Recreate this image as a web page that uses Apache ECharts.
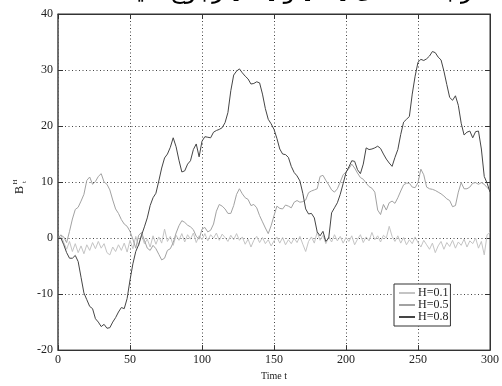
<!DOCTYPE html>
<html>
<head>
<meta charset="utf-8">
<script src="https://cdn.jsdelivr.net/npm/echarts@6/dist/echarts.min.js"></script>
<style>
  html, body { margin: 0; padding: 0; background: #fff; }
  #chart { width: 502px; height: 386px; }
</style>
</head>
<body>
<div id="chart"></div>
<script>
// time samples (t), every 2 steps
const timeT = [
  0, 2, 4, 6, 8, 10, 12, 14, 16, 18, 20, 22, 24, 26, 28, 30, 32, 34, 36, 38,
  40, 42, 44, 46, 48, 50, 52, 54, 56, 58, 60, 62, 64, 66, 68, 70, 72, 74, 76, 78,
  80, 82, 84, 86, 88, 90, 92, 94, 96, 98, 100, 102, 104, 106, 108, 110, 112, 114, 116, 118,
  120, 122, 124, 126, 128, 130, 132, 134, 136, 138, 140, 142, 144, 146, 148, 150, 152, 154, 156, 158,
  160, 162, 164, 166, 168, 170, 172, 174, 176, 178, 180, 182, 184, 186, 188, 190, 192, 194, 196, 198,
  200, 202, 204, 206, 208, 210, 212, 214, 216, 218, 220, 222, 224, 226, 228, 230, 232, 234, 236, 238,
  240, 242, 244, 246, 248, 250, 252, 254, 256, 258, 260, 262, 264, 266, 268, 270, 272, 274, 276, 278,
  280, 282, 284, 286, 288, 290, 292, 294, 296, 298, 300
];

// H = 0.1
const h01 = [
  0, 0.6, -0.8, -2.0, -0.6, -2.4, -1.0, -2.6, -1.4, -2.8, -1.2, -2.2, -0.8, -1.9, -0.6, -1.8, -1.0, -2.6, -3.0, -1.6,
  -2.4, -1.2, -2.2, -0.9, -2.5, -0.4, -1.9, 0.3, -1.4, 0.6, -1.0, -0.2, -1.6, 0.4, -1.1, 0.2, -0.9, 1.6, -0.6, 0.3,
  -1.3, 0.5, -0.4, 0.8, -0.7, 0.6, -0.2, 0.9, -0.8, 0.4, -0.3, 0.8, -0.5, 0.6, 0.0, 0.9, -0.4, 0.7, 0.1, -0.6,
  0.5, -0.3, 0.8, -0.4, 0.2, -1.1, -0.2, -1.6, -0.4, 0.3, -0.8, 0.1, -1.0, -0.3, -1.4, -0.5, 0.2, -0.9, 0.1, -1.2,
  -0.3, -1.0, 0.0, -0.8, 0.3, -1.1, -2.4, -0.6, 0.2, -0.9, 1.1, -0.4, 0.5, -1.0, 0.2, -0.7, 0.6, -0.5, 0.3, -0.9,
  0.1, -0.6, 0.4, -1.2, -0.2, 0.6, -0.8, 0.2, -0.5, 1.0, -0.3, 0.4, -0.7, 0.5, 0.0, 2.1, 0.3, -0.6, 0.4, -0.9,
  0.1, -1.2, -0.3, -1.0, 0.2, -0.8, -1.6, -0.4, -1.2, -2.0, -0.9, -2.6, -1.4, -0.6, -2.0, -0.8, -1.5, -0.4, -1.8, -0.7,
  -1.3, -0.2, -1.6, -0.5, -1.0, 0.0, -1.8, -0.6, -3.0, 0.6, 1.0
];

// H = 0.5
const h05 = [
  0, 0.5, 0.2, -0.8, 1.2, 3.4, 5.1, 5.5, 6.6, 7.8, 10.3, 10.9, 9.6, 10.1, 11.0, 11.5, 10.0, 9.6, 8.6, 6.8,
  5.2, 4.4, 3.3, 2.5, 2.1, 1.2, -0.2, -1.8, 0.5, 1.0, -0.4, -1.8, -2.2, -1.3, -1.9, -2.9, -3.9, -3.6, -2.2, -1.9,
  -0.8, 0.9, 2.2, 3.1, 2.8, 2.3, 2.0, 1.5, 0.3, -0.2, 1.6, 1.9, 1.1, 1.4, 2.5, 4.8, 6.0, 5.7, 5.2, 4.4,
  4.4, 5.8, 7.8, 8.8, 7.9, 7.2, 6.9, 5.8, 6.0, 5.4, 4.0, 2.9, 1.8, 0.8, 2.2, 4.0, 5.7, 5.3, 5.2, 5.9,
  5.7, 5.4, 6.4, 6.7, 6.4, 6.5, 6.8, 8.1, 8.4, 8.6, 8.8, 11.0, 11.2, 10.3, 9.5, 8.6, 8.2, 8.8, 10.0, 11.3,
  11.8, 12.4, 13.2, 12.5, 11.6, 10.8, 10.5, 9.8, 9.2, 8.9, 8.2, 5.0, 4.2, 6.0, 5.0, 6.3, 6.6, 6.2, 7.2, 8.4,
  9.5, 9.8, 9.8, 9.1, 9.0, 9.9, 12.3, 11.3, 9.1, 8.8, 8.7, 8.5, 8.2, 7.9, 7.5, 7.0, 6.7, 5.6, 5.8, 8.2,
  9.9, 8.8, 8.8, 9.1, 9.8, 9.9, 9.6, 9.9, 9.6, 9.0, 8.6
];

// H = 0.8
const h08 = [
  0, 0, -1.2, -2.6, -3.6, -3.6, -3.1, -4.2, -7.0, -9.8, -11.0, -12.2, -12.6, -14.4, -15.0, -15.8, -15.4, -16.1, -16.0, -15.0,
  -14.2, -13.2, -12.4, -12.6, -10.8, -7.5, -4.6, -2.4, -1.2, 0.5, 2.0, 3.6, 5.8, 7.2, 8.0, 10.2, 12.5, 14.3, 15.0, 16.2,
  17.9, 16.3, 13.9, 11.8, 12.0, 13.2, 13.8, 15.8, 16.8, 14.5, 17.3, 18.1, 18.0, 17.9, 18.9, 19.2, 19.4, 19.7, 20.6, 22.4,
  26.3, 29.1, 29.8, 30.2, 29.5, 28.9, 28.4, 27.5, 27.6, 27.9, 27.7, 25.7, 23.1, 21.2, 20.4, 19.4, 17.8, 15.9, 15.0, 14.9,
  14.4, 12.8, 11.7, 11.1, 10.2, 8.0, 5.2, 4.3, 4.4, 3.6, 1.1, 0.4, 1.2, -0.6, 0, 4.5, 5.4, 6.3, 7.8, 9.7,
  11.7, 12.7, 13.8, 13.7, 12.2, 11.5, 13.2, 16.1, 15.8, 15.9, 16.1, 16.4, 16.0, 15.0, 14.1, 13.4, 12.8, 14.4, 15.8, 18.5,
  20.7, 21.2, 21.7, 25.7, 28.9, 31.4, 31.9, 31.7, 32.0, 32.5, 33.3, 33.1, 32.3, 31.8, 29.8, 27.4, 25.1, 24.6, 25.4, 23.7,
  20.5, 18.4, 18.9, 19.1, 17.9, 19.0, 19.1, 15.9, 11.0, 9.8, 8.2
];

const seriesNames = ['H=0.1', 'H=0.5', 'H=0.8'];
const seriesValues = [h01, h05, h08];
const seriesColors = ['#c4c4c4', '#a2a2a2', '#454545'];

const xTicks = { min: 0, max: 300, interval: 50 };
const yTicks = { min: -20, max: 40, interval: 10 };

const serif = 'Liberation Serif';

const chart = echarts.init(document.getElementById('chart'), null, { renderer: 'canvas' });

const gridLine = { show: true, lineStyle: { color: '#444', width: 1, type: [1, 2.5] } };
const inTick = { show: true, inside: true, length: 5, lineStyle: { color: '#333' } };

const option = {
  animation: false,
  backgroundColor: '#fff',
  grid: {
    left: 58, right: 4, top: 14, bottom: 24,
    show: true, borderColor: '#333', borderWidth: 1
  },
  legend: {
    data: seriesNames,
    orient: 'vertical',
    left: 394, top: 284,
    itemWidth: 16, itemHeight: 2, itemGap: 0,
    padding: [3, 2, 3, 4],
    backgroundColor: '#fff',
    borderColor: '#333', borderWidth: 1,
    textStyle: { fontFamily: serif, fontSize: 12, color: '#222', lineHeight: 11.5, padding: [0, 0, 0, -2] }
  },
  xAxis: [{
    type: 'value',
    ...xTicks,
    name: 'Time t',
    nameLocation: 'middle',
    nameGap: 15,
    nameTextStyle: { fontFamily: serif, fontSize: 10, color: '#222' },
    axisLine: { show: true, onZero: false, lineStyle: { color: '#333', width: 1 } },
    axisTick: inTick,
    axisLabel: { fontFamily: serif, fontSize: 12, color: '#222', margin: 4 },
    splitLine: gridLine
  }, {
    type: 'value',
    ...xTicks,
    position: 'top',
    axisLine: { show: true, onZero: false, lineStyle: { color: '#333' } },
    axisTick: inTick,
    axisLabel: { show: false },
    splitLine: { show: false }
  }],
  yAxis: [{
    type: 'value',
    ...yTicks,
    axisLine: { show: true, onZero: false, lineStyle: { color: '#666', width: 1.5 } },
    axisTick: inTick,
    axisLabel: { fontFamily: serif, fontSize: 12, color: '#222', margin: 5 },
    splitLine: gridLine
  }, {
    type: 'value',
    ...yTicks,
    position: 'right',
    axisLine: { show: true, onZero: false, lineStyle: { color: '#333' } },
    axisTick: inTick,
    axisLabel: { show: false },
    splitLine: { show: false }
  }],
  series: seriesNames.map((name, i) => ({
    name,
    type: 'line',
    data: timeT.map((t, k) => [t, seriesValues[i][k]]),
    showSymbol: false,
    symbol: 'none',
    color: seriesColors[i],
    lineStyle: { color: seriesColors[i], width: 1 },
    z: 2 + i
  })),
  graphic: [
    {
      type: 'text', left: 117, top: -20,
      style: {
        text: '{b|.}{b|رجوع کنید}{b| [}{p|۲۳}{b|] }{b|و}{b| [}{p|۲۱}{b|] }{b|برای جزئیات بیشتر به مقاله‌ی}',
        rich: {
          b: { fontFamily: 'DejaVu Sans', fontSize: 24, fill: '#000' },
          p: { fontFamily: 'DejaVu Sans', fontSize: 24, fill: '#e6007e' }
        }
      }
    },
    {
      type: 'text', x: 20, y: 190, rotation: Math.PI / 2,
      style: { text: 'B', fontFamily: serif, fontSize: 12, fill: '#222', align: 'center', verticalAlign: 'middle' }
    },
    {
      type: 'text', x: 15, y: 182, rotation: Math.PI / 2,
      style: { text: 'H', fontFamily: serif, fontSize: 7, fill: '#222', align: 'center', verticalAlign: 'middle' }
    },
    {
      type: 'text', x: 24, y: 182, rotation: Math.PI / 2,
      style: { text: 't', fontFamily: serif, fontSize: 7, fill: '#222', align: 'center', verticalAlign: 'middle' }
    }
  ]
};

chart.setOption(option);
</script>
</body>
</html>
